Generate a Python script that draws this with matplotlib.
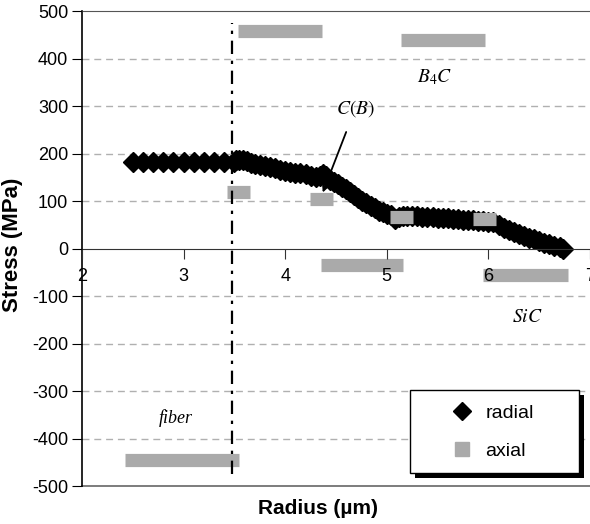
import matplotlib
matplotlib.use("Agg")
import matplotlib.pyplot as plt
from matplotlib.lines import Line2D
from matplotlib import patheffects

plt.rcParams['font.family'] = ['Liberation Sans', 'DejaVu Sans']
plt.rcParams['mathtext.fontset'] = 'stix'
plt.rcParams['axes.unicode_minus'] = False

# radial stress (diamonds)
radial_r = [2.5, 2.6, 2.7, 2.8, 2.9, 3.0, 3.1, 3.2, 3.3, 3.4, 3.5,
            3.52, 3.55, 3.58, 3.62, 3.66, 3.70, 3.75, 3.80, 3.85, 3.90,
            3.95, 4.00, 4.05, 4.10, 4.15, 4.20, 4.25, 4.30, 4.34, 4.37,
            4.40, 4.44, 4.48, 4.52, 4.56, 4.60, 4.64, 4.68, 4.72, 4.76,
            4.80, 4.84, 4.88, 4.92, 4.96, 5.00, 5.04, 5.08, 5.12, 5.16,
            5.20, 5.25, 5.30, 5.35, 5.40, 5.45, 5.50, 5.55, 5.60, 5.65,
            5.70, 5.75, 5.80, 5.85, 5.90, 5.95, 6.00, 6.05, 6.10, 6.15,
            6.20, 6.25, 6.30, 6.35, 6.40, 6.45, 6.50, 6.55, 6.60, 6.65,
            6.70, 6.73]
radial_s = [183, 183, 183, 183, 183, 183, 183, 183, 183, 183, 183,
            186, 187, 187, 185, 181, 178, 176, 173, 171, 169,
            166, 164, 162, 160, 158, 156, 153, 150, 152, 156,
            152, 145, 140, 135, 130, 125, 119, 113, 107, 101,
            95, 90, 85, 80, 76, 73, 70, 63, 66, 68,
            69, 68, 68, 67, 67, 66, 65, 65, 64, 63,
            62, 61, 60, 59, 58, 57, 56, 55, 50, 44,
            39, 34, 30, 26, 22, 19, 15, 12, 9, 6,
            3, 0]

# axial stress, one constant value per segment
axial_start = [2.42, 3.43, 3.54, 4.24, 5.14, 4.35, 5.03, 5.85, 5.95]
axial_end = [3.55, 3.65, 4.36, 4.47, 5.97, 5.16, 5.26, 6.07, 6.78]
axial_s = [-445, 118, 457, 105, 439, -34, 67, 63, -56]

fiber_edge = 3.48
gray = '#aaaaaa'

fig = plt.figure(figsize=(5.9, 5.24), dpi=100)
ax = fig.add_axes([0.139, 0.0725, 0.861, 0.9065])
ax.set_xlim(2, 7)
ax.set_ylim(-500, 500)
ax.set_axisbelow(False)

# dashed grid
for y in [-400, -300, -200, -100, 100, 200, 300, 400]:
    ax.axhline(y, color='#b0b0b0', lw=1.0, ls=(0, (5, 3.5)), zorder=0.5)

ax.plot(radial_r, radial_s, ls='none', marker='D', ms=10, color='black',
        zorder=2, clip_on=False)
ax.hlines(axial_s, axial_start, axial_end, colors=gray, lw=9.5, zorder=2.1)
ax.vlines(fiber_edge, -475, 475, colors='black', lw=1.6, linestyles=(0, (6, 3, 1.5, 3)),
          zorder=2.2)

# annotations
ax.text(2.92, -356, 'fiber', fontsize=13, style='italic', family='Liberation Serif',
        ha='center', va='center')
ax.text(6.38, -145, '$SiC$', fontsize=14, ha='center', va='center')
ax.text(5.47, 360, '$B_4C$', fontsize=14, ha='center', va='center')
ax.annotate('$C(B)$', xy=(4.37, 118), xytext=(4.69, 295), fontsize=14,
            ha='center', va='center',
            arrowprops=dict(arrowstyle='-|>', color='black', lw=1.3,
                            mutation_scale=8, shrinkA=8, shrinkB=0))

# spines / axes
ax.spines['right'].set_visible(False)
ax.spines['top'].set_color('#555555')
ax.spines['bottom'].set_position(('data', 0))
ax.spines['bottom'].set_color('#333333')
ax.spines['left'].set_color('black')
ax.spines['left'].set_linewidth(1.2)
ax.axhline(-500, color='#666666', lw=1.2, clip_on=False, zorder=2.5)

ax.set_xticks([2, 3, 4, 5, 6, 7])
ax.set_yticks(range(-500, 501, 100))
ax.tick_params(axis='x', direction='out', length=7, pad=7, labelsize=13,
               color='#333333')
ax.tick_params(axis='y', direction='out', length=7, pad=3, labelsize=13)

ax.set_xlabel('Radius (µm)', fontsize=15, fontweight='bold')
ax.xaxis.set_label_coords(0.465, -0.027)
ax.set_ylabel('Stress (MPa)', fontsize=16, fontweight='bold')
ax.yaxis.set_label_coords(-0.116, 0.507)

handles = [Line2D([], [], ls='none', marker='D', ms=9, color='black'),
           Line2D([], [], ls='none', marker='s', ms=10, color=gray)]
leg = ax.legend(handles, ['radial', 'axial'], loc='lower left',
                bbox_to_anchor=(0.646, 0.027, 0.332, 0.179), mode='expand',
                borderaxespad=0, fontsize=14, borderpad=0.7, labelspacing=1.05,
                handlelength=3.96, handletextpad=-0.79, fancybox=False,
                framealpha=1, edgecolor='black')
leg.get_frame().set_linewidth(1.0)
leg.get_frame().set_path_effects([
    patheffects.SimplePatchShadow(offset=(3.5, -3.5), shadow_rgbFace='black', alpha=1),
    patheffects.Normal()])
leg.set_zorder(5)

fig.savefig('out.png', dpi=100)
